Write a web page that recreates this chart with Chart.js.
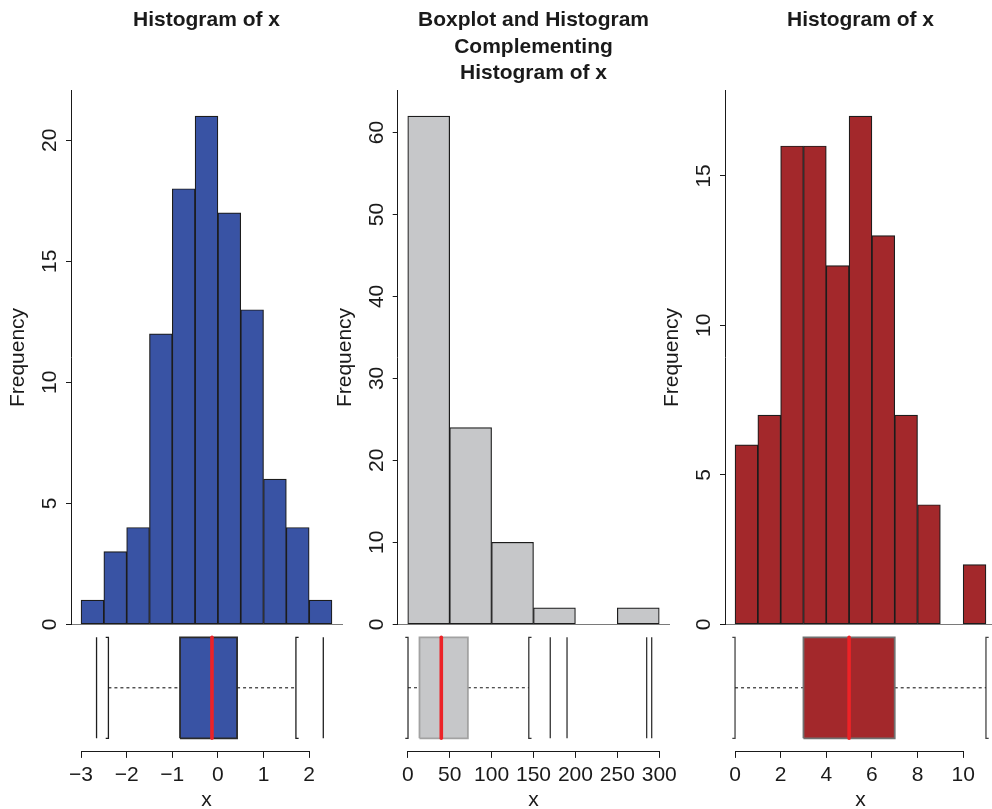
<!DOCTYPE html>
<html>
<head>
<meta charset="utf-8">
<script src="https://cdn.jsdelivr.net/npm/chart.js@4/dist/chart.umd.min.js"></script>
<style>
  html, body { margin: 0; padding: 0; background: #fff; width: 992px; height: 809px; overflow: hidden; }
  canvas { position: absolute; left: 0; }
</style>
</head>
<body>
<canvas id="hist1" width="1000" height="650" style="top:0"></canvas>
<canvas id="hist2" width="1000" height="650" style="top:0"></canvas>
<canvas id="hist3" width="1000" height="650" style="top:0"></canvas>
<canvas id="box1" width="1000" height="209" style="top:600px"></canvas>
<canvas id="box2" width="1000" height="209" style="top:600px"></canvas>
<canvas id="box3" width="1000" height="209" style="top:600px"></canvas>
<script>
// ---- Panel 1: symmetric sample ----
const title1 = 'Histogram of x';
const breaks1 = [-3, -2.5, -2, -1.5, -1, -0.5, 0, 0.5, 1, 1.5, 2, 2.5];
const counts1 = [1, 3, 4, 12, 18, 21, 17, 13, 6, 4, 1];
const boxStats1 = [-2.40, -0.83, -0.13, 0.42, 1.71];   // lower whisker, Q1, median, Q3, upper whisker
const outliers1 = [-2.66, 2.31];
const xTicks1 = [-3, -2, -1, 0, 1, 2];
const xTickLabels1 = ['\u22123', '\u22122', '\u22121', '0', '1', '2'];
const yTicks1 = [0, 5, 10, 15, 20];

// ---- Panel 2: right-skewed sample ----
const title2 = ['Boxplot and Histogram', 'Complementing', 'Histogram of x'];
const breaks2 = [0, 50, 100, 150, 200, 250, 300];
const counts2 = [62, 24, 10, 2, 0, 2];
const boxStats2 = [0.3, 14, 40, 71.7, 144.4];
const outliers2 = [170, 190, 285, 291];
const xTicks2 = [0, 50, 100, 150, 200, 250, 300];
const xTickLabels2 = ['0', '50', '100', '150', '200', '250', '300'];
const yTicks2 = [0, 10, 20, 30, 40, 50, 60];

// ---- Panel 3: count-like sample ----
const title3 = 'Histogram of x';
const breaks3 = [0, 1, 2, 3, 4, 5, 6, 7, 8, 9, 10, 11];
const counts3 = [6, 7, 16, 16, 12, 17, 13, 7, 4, 0, 2];
const boxStats3 = [0, 3, 5, 7, 11];
const outliers3 = [];
const xTicks3 = [0, 2, 4, 6, 8, 10];
const xTickLabels3 = ['0', '2', '4', '6', '8', '10'];
const yTicks3 = [0, 5, 10, 15];

// ---- layout & style ----
const FONT = '"Liberation Sans", Arial, Helvetica, sans-serif';
const INK = '#1a1a1a';
const CANVAS_W = 1000;
const HIST_H = 650;
const PLOT_TOP = 90.7;          // top of histogram plot region
const PLOT_BASE = 624.3;        // y = 0 baseline of histograms
const Y_AXIS_W = 71;
const TITLE_LINE = 26.5;
const TITLE_PAD_TOP = 7;
const BOX_TOP = 600, BOX_H = 209;
const BOX_AREA_TOP = 624.7, BOX_AREA_BOTTOM = 750.9;
const LO = 0.6, MID = 1.0, HI = 1.4;  // box band on the boxplot's own y scale

Chart.defaults.font.family = FONT;

// R-style axis line: runs from the first to the last tick only
const rAxisLine = {
  id: 'rAxisLine',
  afterDraw(chart, args, opts) {
    const s = chart.scales.x;
    const t = s.ticks;
    if (!t.length) return;
    const ctx = chart.ctx;
    const y = Math.round(s.top) + 0.5;
    ctx.save();
    ctx.strokeStyle = opts.color;
    ctx.lineWidth = opts.width;
    ctx.beginPath();
    ctx.moveTo(s.getPixelForValue(t[0].value), y);
    ctx.lineTo(s.getPixelForValue(t[t.length - 1].value), y);
    ctx.stroke();
    ctx.restore();
  }
};

function xLimits(breaks) {
  const lo = breaks[0], hi = breaks[breaks.length - 1];
  const pad = 0.04 * (hi - lo);
  return [lo - pad, hi + pad];
}

function histogram(id, p) {
  const [xmin, xmax] = xLimits(p.breaks);
  const bars = p.counts.map((c, i) => ({ x: (p.breaks[i] + p.breaks[i + 1]) / 2, y: c }));
  const lines = Array.isArray(p.title) ? p.title.length : 1;
  return new Chart(document.getElementById(id), {
    type: 'bar',
    data: {
      datasets: [{
        data: bars,
        backgroundColor: p.fill,
        borderColor: '#1c1c1c',
        borderWidth: 1.2,
        borderSkipped: false,
        barPercentage: 1,
        categoryPercentage: 1
      }]
    },
    options: {
      responsive: false,
      animation: false,
      events: [],
      layout: { padding: { left: p.plotLeft - Y_AXIS_W, right: CANVAS_W - p.plotRight, top: 0, bottom: HIST_H - PLOT_BASE } },
      plugins: {
        legend: { display: false },
        tooltip: { enabled: false },
        title: {
          display: true,
          text: p.title,
          fullSize: false,
          color: INK,
          font: { family: FONT, size: 21, weight: 'bold', lineHeight: TITLE_LINE / 21 },
          padding: { top: TITLE_PAD_TOP, bottom: PLOT_TOP - TITLE_PAD_TOP - lines * TITLE_LINE }
        }
      },
      scales: {
        x: {
          type: 'linear', min: xmin, max: xmax, offset: false,
          afterBuildTicks: s => { s.ticks = p.xTicks.map(v => ({ value: v })); },
          afterFit: s => { s.height = 0; },
          ticks: { display: false },
          grid: { display: false },
          border: { display: true, color: '#7a7a7a', width: 1 }
        },
        y: {
          type: 'linear', position: 'left', min: 0, max: Math.max(...p.counts) * 1.05,
          afterBuildTicks: s => { s.ticks = p.yTicks.map(v => ({ value: v })); },
          afterFit: s => { s.width = Y_AXIS_W; },
          grid: { display: true, drawOnChartArea: false, drawTicks: true, tickLength: 5, color: INK, lineWidth: 1 },
          border: { display: true, color: INK, width: 1 },
          ticks: { minRotation: 90, maxRotation: 90, crossAlign: 'center', padding: 4.3, color: INK, font: { family: FONT, size: 21 } },
          title: { display: true, text: 'Frequency', color: INK, font: { family: FONT, size: 21, lineHeight: 1.2 }, padding: { top: 5.9, bottom: 0 } }
        }
      }
    }
  });
}

function boxplot(id, p) {
  const [xmin, xmax] = xLimits(p.breaks);
  const [lw, q1, med, q3, uw] = p.stats;
  const cap = 0.01 * (xmax - xmin);
  const seg = (pts, extra) => Object.assign({
    data: pts.map(([x, y]) => ({ x, y })),
    pointRadius: 0,
    borderColor: p.lineColor,
    borderWidth: 1.3,
    tension: 0,
    fill: false
  }, extra);
  const datasets = [
    seg([[med, LO], [med, HI]], { borderColor: '#ec2327', borderWidth: 3.6, borderCapStyle: 'round', order: 0 }),
    seg([[q1, LO], [q3, LO], [q3, HI], [q1, HI], [q1, LO]], { borderColor: p.boxEdge, borderWidth: 1.8, order: 1 }),
    seg([[q1, HI], [q3, HI]], { borderWidth: 0, backgroundColor: p.fill, fill: '+1', order: 2 }),
    seg([[q1, LO], [q3, LO]], { borderWidth: 0, order: 3 }),
    seg([[lw, MID], [q1, MID]], { borderDash: [3, 3], borderWidth: 1.1, borderColor: INK, order: 4 }),
    seg([[q3, MID], [uw, MID]], { borderDash: [3, 3], borderWidth: 1.1, borderColor: INK, order: 4 }),
    seg([[lw - cap, HI], [lw, HI], [lw, LO], [lw - cap, LO]], { order: 4 }),
    seg([[uw + cap, HI], [uw, HI], [uw, LO], [uw + cap, LO]], { order: 4 })
  ];
  p.outliers.forEach(o => datasets.push(seg([[o, LO], [o, HI]], { order: 4 })));

  return new Chart(document.getElementById(id), {
    type: 'line',
    data: { datasets },
    options: {
      responsive: false,
      animation: false,
      events: [],
      layout: { padding: { left: p.plotLeft, right: CANVAS_W - p.plotRight, top: BOX_AREA_TOP - BOX_TOP, bottom: 0 } },
      plugins: {
        legend: { display: false },
        tooltip: { enabled: false },
        rAxisLine: { color: INK, width: 1 }
      },
      scales: {
        x: {
          type: 'linear', position: 'bottom', min: xmin, max: xmax, offset: false,
          afterBuildTicks: s => { s.ticks = p.xTicks.map(v => ({ value: v })); },
          afterFit: s => { s.height = BOX_TOP + BOX_H - BOX_AREA_BOTTOM; },
          grid: { display: true, drawOnChartArea: false, drawTicks: true, tickLength: 7, color: INK, lineWidth: 1 },
          border: { display: false },
          ticks: {
            autoSkip: false, maxRotation: 0, minRotation: 0, padding: 4.5, color: INK,
            font: { family: FONT, size: 21 },
            callback: (v, i) => p.xTickLabels[i]
          },
          title: { display: true, text: 'x', color: INK, font: { family: FONT, size: 21, lineHeight: 0.85 }, padding: 0 }
        },
        y: { type: 'linear', display: false, min: 0.5, max: 1.5 }
      }
    },
    plugins: [rAxisLine]
  });
}

const panels = [
  { hist: 'hist1', box: 'box1', title: title1, breaks: breaks1, counts: counts1, stats: boxStats1, outliers: outliers1,
    xTicks: xTicks1, xTickLabels: xTickLabels1, yTicks: yTicks1,
    plotLeft: 71, plotRight: 342, fill: '#3953a4', boxEdge: '#2a2a2a', lineColor: '#1e1e1e' },
  { hist: 'hist2', box: 'box2', title: title2, breaks: breaks2, counts: counts2, stats: boxStats2, outliers: outliers2,
    xTicks: xTicks2, xTickLabels: xTickLabels2, yTicks: yTicks2,
    plotLeft: 397.7, plotRight: 669.3, fill: '#c6c7c9', boxEdge: '#a2a2a2', lineColor: '#333333' },
  { hist: 'hist3', box: 'box3', title: title3, breaks: breaks3, counts: counts3, stats: boxStats3, outliers: outliers3,
    xTicks: xTicks3, xTickLabels: xTickLabels3, yTicks: yTicks3,
    plotLeft: 725, plotRight: 996, fill: '#a3282b', boxEdge: '#707070', lineColor: '#444444' }
];

panels.forEach(p => {
  histogram(p.hist, p);
  boxplot(p.box, p);
});
</script>
</body>
</html>
